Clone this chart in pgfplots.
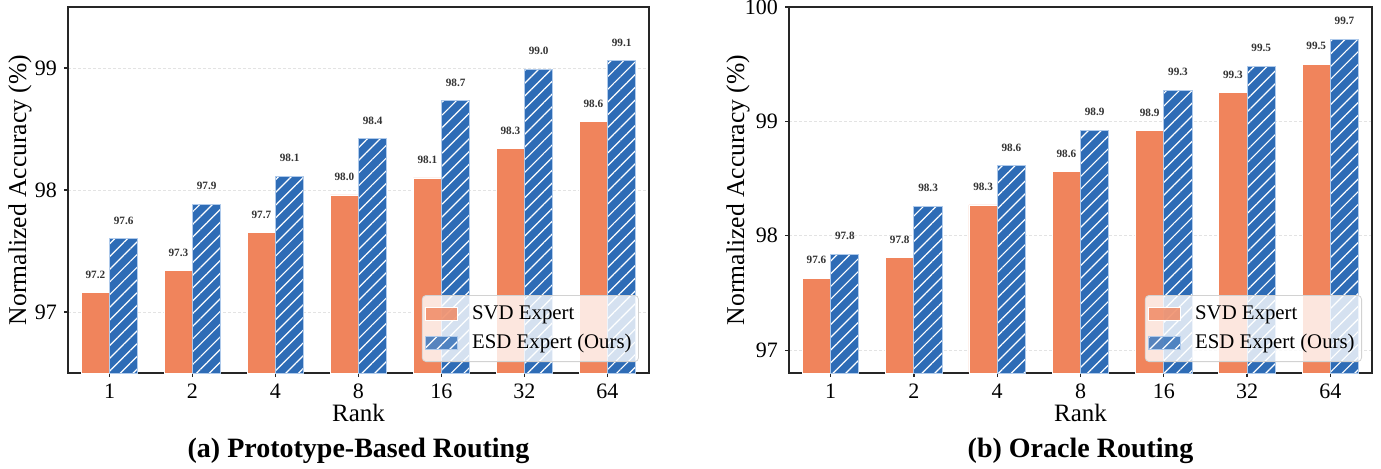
\documentclass[border=0pt]{standalone}
\usepackage{fontspec}
\setmainfont{Liberation Serif}
\usepackage{pgfplots}
\pgfplotsset{compat=1.18}
\usetikzlibrary{patterns.meta}
\definecolor{svd}{RGB}{240,132,92}
\definecolor{esd}{RGB}{46,108,182}
\definecolor{esdedge}{RGB}{175,202,235}

\pgfplotsset{
  common/.style={
    scale only axis, width=290.5pt, height=183pt,
    ybar, bar width=0.34,
    xmin=-0.5, xmax=6.5,
    xtick={0,...,6}, xticklabels={1,2,4,8,16,32,64},
    tick align=outside, major tick length=2pt,
    xtick pos=bottom, ytick pos=left,
    ymajorgrids, major grid style={dash pattern=on 1.5pt off 1pt, gray!22, line width=0.4pt},
    axis line style={black!85, line width=0.6pt},
    tick style={black!85, line width=0.6pt},
    /pgf/number format/assume math mode=true,
    tick label style={font=\fontsize{11}{13}\selectfont},
    xlabel={Rank},
    xlabel style={at={(axis description cs:0.5,0)}, anchor=base, yshift=-24.3pt, font=\fontsize{12.5}{14}\selectfont},
    ylabel={Normalized Accuracy (\%)},
    ylabel style={anchor=center, font=\fontsize{12.8}{15}\selectfont},
    point meta=y,
    nodes near coords={\pgfmathprintnumber[fixed,fixed zerofill,precision=1,assume math mode=true]{\pgfplotspointmeta}},
    every node near coord/.append style={font=\bfseries\fontsize{5.6}{6}\selectfont, anchor=south, inner sep=0pt, yshift=7pt, text=black!80},
    clip mode=individual,
    legend cell align=left,
    legend image code/.code={\draw[#1, sharp corners] (0pt,-3.25pt) rectangle (16pt,3.25pt);},
    legend style={at={(1,0)}, anchor=south east, xshift=-5pt, yshift=5.5pt,
      fill=white, fill opacity=0.8, draw opacity=1, text opacity=1,
      draw=gray!35, rounded corners=2pt, font=\fontsize{10.4}{12}\selectfont,
      inner xsep=1.5pt, inner ysep=3pt, row sep=2pt,
      /tikz/every odd column/.append style={column sep=5pt}},
  },
  svdbar/.style={fill=svd, draw=white, line width=0.3pt, bar shift=-0.17},
  esdbar/.style={fill=esd, draw=esdedge, line width=0.5pt, bar shift=0.17,
    postaction={pattern={Lines[angle=45,distance=4.5pt,line width=0.6pt]}, pattern color=white}},
}

\begin{document}
\begin{tikzpicture}
\path[use as bounding box] (0,0) rectangle (690.5pt,234pt);

\begin{axis}[common, at={(34pt,47.5pt)}, anchor=south west,
  ymin=96.5, ymax=99.5, ytick={97,98,99},
  ylabel style={at={(axis description cs:-0.0826,0.5)}}]
\addplot[svdbar] coordinates {(0,97.16) (1,97.34) (2,97.65) (3,97.96) (4,98.10) (5,98.34) (6,98.56)};
\addplot[esdbar] coordinates {(0,97.60) (1,97.88) (2,98.11) (3,98.42) (4,98.73) (5,98.99) (6,99.06)};
\legend{SVD Expert, ESD Expert (Ours)}
\node[anchor=base, yshift=-42pt, font=\bfseries\fontsize{14}{16}\selectfont] at (rel axis cs:0.5,0) {(a) Prototype-Based Routing};
\end{axis}

\begin{axis}[common, at={(394.5pt,47.5pt)}, anchor=south west, width=291.5pt,
  ymin=96.8, ymax=100, ytick={97,98,99,100},
  ylabel style={at={(axis description cs:-0.0875,0.5)}}]
\addplot[svdbar] coordinates {(0,97.63) (1,97.81) (2,98.27) (3,98.56) (4,98.92) (5,99.25) (6,99.50)};
\addplot[esdbar] coordinates {(0,97.84) (1,98.26) (2,98.61) (3,98.92) (4,99.27) (5,99.48) (6,99.72)};
\legend{SVD Expert, ESD Expert (Ours)}
\node[anchor=base, yshift=-42pt, font=\bfseries\fontsize{14}{16}\selectfont] at (rel axis cs:0.5,0) {(b) Oracle Routing};
\end{axis}
\end{tikzpicture}
\end{document}
